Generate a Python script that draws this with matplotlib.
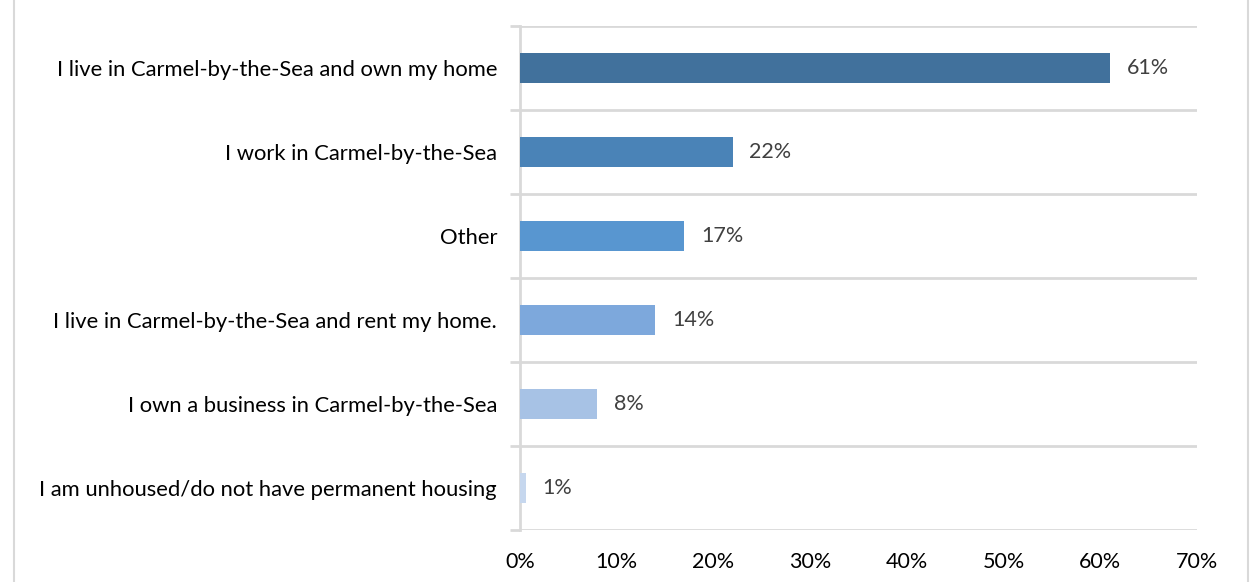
import matplotlib.pyplot as plt
from matplotlib.patches import Rectangle

# survey answers, top to bottom
categories = [
    "I live in Carmel-by-the-Sea and own my home",
    "I work in Carmel-by-the-Sea",
    "Other",
    "I live in Carmel-by-the-Sea and rent my home.",
    "I own a business in Carmel-by-the-Sea",
    "I am unhoused/do not have permanent housing",
]
values = [61, 22, 17, 14, 8, 0.6]
colors = ["#41719C", "#4A83B7", "#5896D0", "#7DA8DC", "#A7C2E5", "#C6D7EE"]
xticks = [0, 10, 20, 30, 40, 50, 60, 70]

plt.rcParams['font.family'] = ['Lato', 'DejaVu Sans']

fig = plt.figure(figsize=(12.51, 5.82), dpi=100)
ax = fig.add_axes([520 / 1251, 1 - 530 / 582, 677 / 1251, 504 / 582])

grid_c = "#D9D9D9"
ypos = list(range(len(categories)))
ax.barh(ypos, values, height=0.36, color=colors, zorder=3)
for y, v in zip(ypos, values):
    ax.annotate(f"{v:.0f}%", (v, y), xytext=(12, 0), textcoords="offset points",
                va="center", ha="left", fontsize=15.5, color="#404040")

ax.set_xlim(0, 70)
ax.set_ylim(len(categories) - 0.5, -0.5)
ax.set_xticks(xticks)
ax.set_xticklabels([f"{t}%" for t in xticks], fontsize=15.5, color="#000000")
ax.set_yticks(ypos)
ax.set_yticklabels(categories, fontsize=15.8, color="#000000")
ax.set_yticks([i - 0.5 for i in range(len(categories) + 1)], minor=True)
ax.tick_params(axis="y", which="major", length=0, pad=16.5)
ax.tick_params(axis="y", which="minor", length=7, width=2, color=grid_c)
ax.tick_params(axis="x", length=0, pad=16)
ax.grid(axis="y", which="minor", color=grid_c, linewidth=2, zorder=0)
ax.grid(axis="y", which="major", visible=False)
for s in ["top", "right", "bottom"]:
    ax.spines[s].set_visible(False)
ax.spines["left"].set_color(grid_c)
ax.spines["left"].set_linewidth(2)

# chart frame (top and bottom run off the picture)
fig.patches.append(Rectangle((14 / 1251, -0.1), (1248 - 14) / 1251, 1.2,
                             transform=fig.transFigure, fill=False,
                             edgecolor=grid_c, linewidth=1.5))

fig.savefig("out.png", dpi=100)
